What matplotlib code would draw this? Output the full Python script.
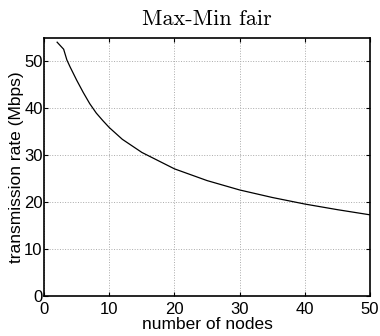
import numpy as np
import matplotlib
matplotlib.use('Agg')
import matplotlib.pyplot as plt

# points
nodes = [2, 3, 3.5, 4, 5, 6, 7, 8, 9, 10, 12, 15, 18, 20, 25, 30, 35, 40, 45, 50]
rate = [54.1, 52.6, 50.3, 48.8, 46.0, 43.4, 41.0, 39.0, 37.4, 35.9, 33.4, 30.6,
        28.5, 27.1, 24.6, 22.6, 21.0, 19.6, 18.4, 17.3]

xticks = [0, 10, 20, 30, 40, 50]
yticks = [0, 10, 20, 30, 40, 50]

plt.rcParams['font.family'] = ['Liberation Sans', 'DejaVu Sans']

fig = plt.figure(figsize=(3.8, 3.36), dpi=100)
ax = fig.add_axes([0.116, 0.119, 0.858, 0.768])

ax.plot(nodes, rate, color='black', linewidth=0.9)

ax.set_xlim(0, 50)
ax.set_ylim(0, 55)
ax.set_xticks(xticks)
ax.set_yticks(yticks)
ax.tick_params(direction='in', length=3, width=0.8, labelsize=12,
               top=True, right=True)
ax.tick_params(axis='y', pad=1)
ax.tick_params(axis='x', pad=4.5)
ax.grid(True, linestyle=':', color='#aaaaaa', linewidth=0.7)
for s in ax.spines.values():
    s.set_linewidth(1.2)

ax.set_xlabel('number of nodes', fontsize=12.5, labelpad=0)
ax.set_ylabel('transmission rate (Mbps)', fontsize=12.5, labelpad=0)
ax.set_title('Max-Min fair', fontsize=16, family='cmr10', pad=9)

fig.savefig('out.png', dpi=100)
